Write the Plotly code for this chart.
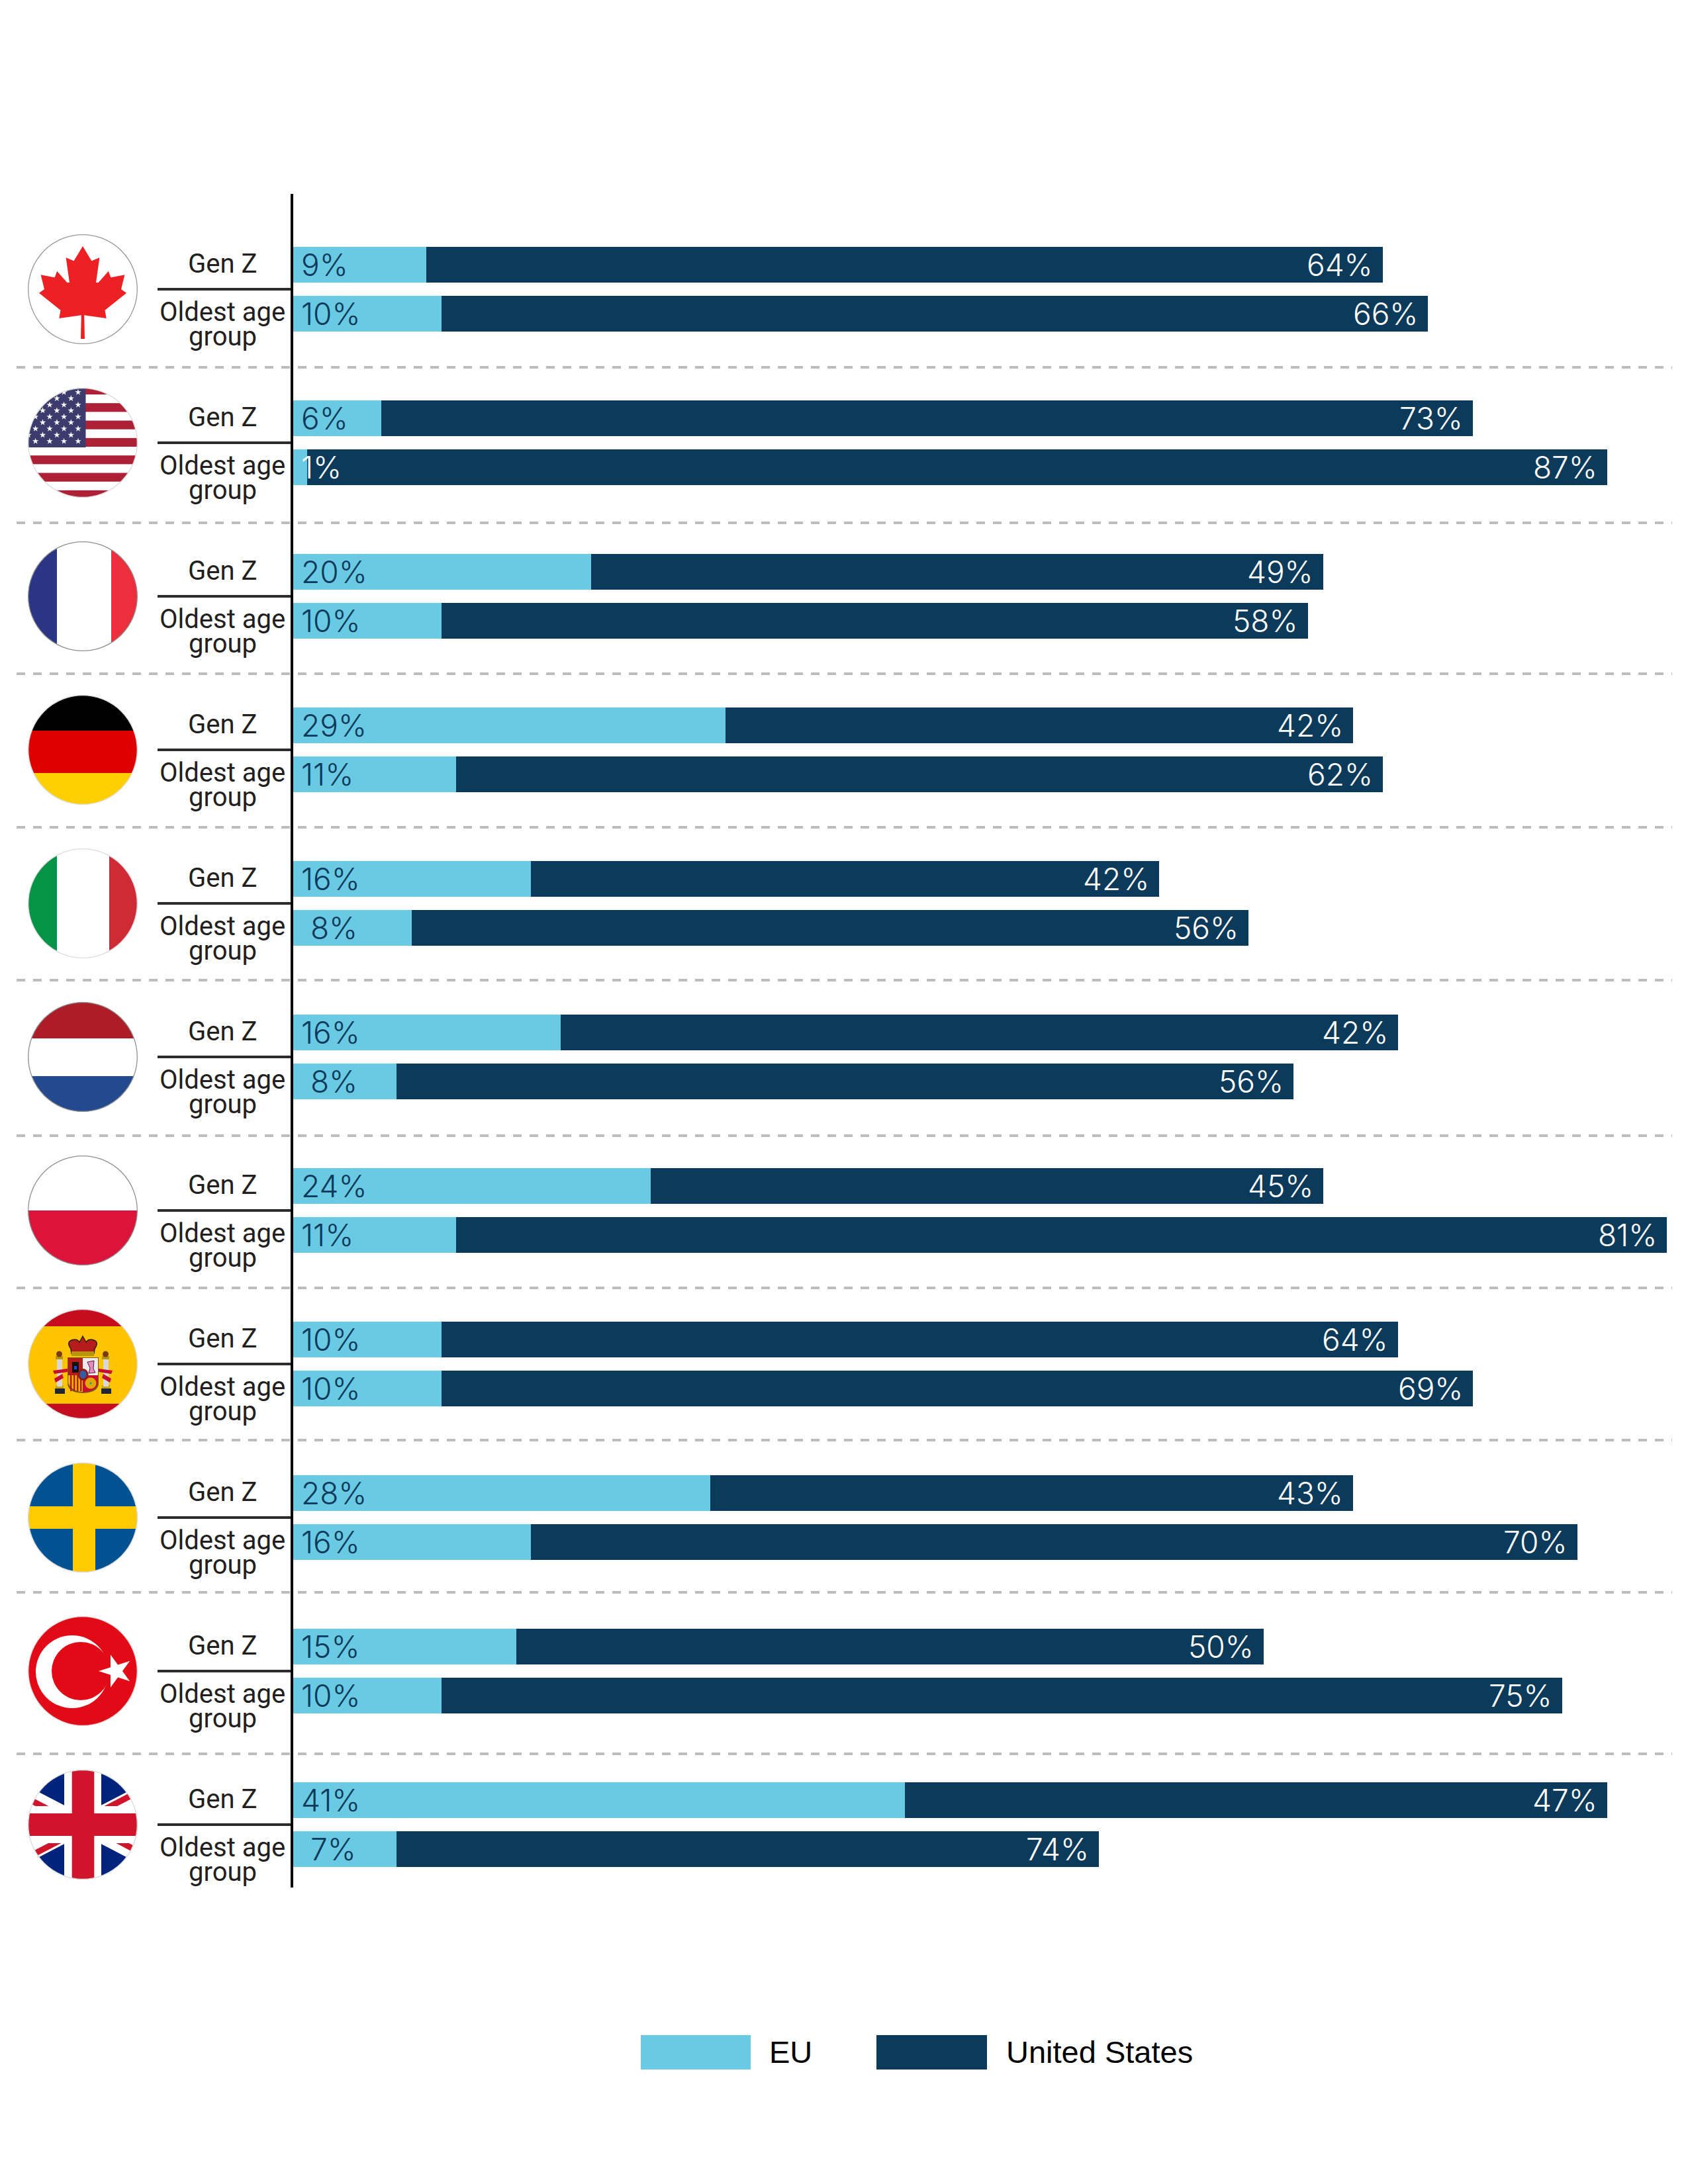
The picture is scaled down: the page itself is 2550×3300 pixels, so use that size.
import base64
import math

import plotly.graph_objects as go

# Valeurs des barres
countries = ["Canada", "United States", "France", "Germany", "Italy", "Netherlands",
             "Poland", "Spain", "Sweden", "Turkey", "United Kingdom"]
eu_genz = [9, 6, 20, 29, 16, 18, 24, 10, 28, 15, 41]
eu_oldest = [10, 1, 10, 11, 8, 7, 11, 10, 16, 10, 7]
us_genz = [64, 73, 49, 42, 42, 56, 45, 64, 43, 50, 47]
us_oldest = [66, 87, 58, 62, 56, 60, 81, 69, 70, 75, 47]

# Etiquettes imprimées (pas toujours égales aux longueurs de barres dans l'original)
eu_genz_labels = ["9%", "6%", "20%", "29%", "16%", "16%", "24%", "10%", "28%", "15%", "41%"]
eu_oldest_labels = ["10%", "1%", "10%", "11%", "8%", "8%", "11%", "10%", "16%", "10%", "7%"]
us_genz_labels = ["64%", "73%", "49%", "42%", "42%", "42%", "45%", "64%", "43%", "50%", "47%"]
us_oldest_labels = ["66%", "87%", "58%", "62%", "56%", "56%", "81%", "69%", "70%", "75%", "74%"]

divider_rows = [555, 790, 1018, 1250, 1481, 1716, 1946, 2176, 2406, 2650]

# La page garde une marge de 8 px autour de la figure
PAGE_MARGIN = 8
W, H = 2550 - PAGE_MARGIN, 3300 - PAGE_MARGIN
X0, PX_PER_PCT = 441, 22.58
ROW_TOP, ROW_PITCH = 373, 232
BAR_H = 54
LIGHT, NAVY = "#6ACAE3", "#0B3A5B"
INK = "#231F20"
VALUE_FONT = dict(family="Inter", size=46, weight=300)
LABEL_FONT = dict(family="Roboto", size=40, color=INK)


def star(cx, cy, r, fill="#fff", start=-90, ratio=0.382):
    pts = []
    for k in range(10):
        a = math.radians(start + 36 * k)
        rr = r if k % 2 == 0 else r * ratio
        pts.append(f"{cx + rr * math.cos(a):.2f},{cy + rr * math.sin(a):.2f}")
    return f'<polygon points="{" ".join(pts)}" fill="{fill}"/>'


def rect(x, y, w, h, fill):
    return f'<rect x="{x}" y="{y}" width="{w}" height="{h}" fill="{fill}"/>'


def flag_canada():
    half = [(0, -65), (13.4, -42.7), (25.4, -47.7), (20, -10), (23.6, -10), (38.8, -27.3), (42.4, -17.7),
            (63.4, -21.7), (58, 0), (66, 5.7), (33.5, 31.7), (35.7, 44), (2.2, 39.3), (3, 75)]
    pts = half + [(-x, y) for x, y in reversed(half[1:])]
    txt = " ".join(f"{83 + x},{83 + y}" for x, y in pts)
    return rect(0, 0, 166, 166, "#fff") + f'<polygon points="{txt}" fill="#ED2024"/>'


def flag_usa():
    s = rect(0, 0, 166, 166, "#fff") + rect(0, 0, 166, 10, "#AE2035")
    for k in range(1, 7):
        s += rect(0, 10 + 13.17 * (2 * k - 1), 166, 13.17, "#AE2035")
    s += rect(0, 0, 87.5, 90, "#3C3B6E")
    rows = [6.7, 16, 25.7, 34.3, 43.7, 52.3, 61.7, 71.3, 80.7]
    for j, y in enumerate(rows):
        xs = [76, 54.6, 33, 11.6] if j % 2 == 0 else [65.3, 43.9, 22.5, 1]
        for x in xs:
            s += star(x, y, 5)
    return s


def flag_france():
    return rect(0, 0, 44, 166, "#2B3585") + rect(44, 0, 83, 166, "#fff") + rect(126, 0, 40, 166, "#EC2E3D")


def flag_germany():
    return rect(0, 0, 166, 54, "#000") + rect(0, 54, 166, 64, "#DD0000") + rect(0, 118, 166, 48, "#FFCF00")


def flag_italy():
    return rect(0, 0, 44, 166, "#059347") + rect(44, 0, 79, 166, "#fff") + rect(123, 0, 43, 166, "#CE2B37")


def flag_netherlands():
    return rect(0, 0, 166, 55, "#AD1D28") + rect(0, 55, 166, 57, "#fff") + rect(0, 112, 166, 54, "#234A8F")


def flag_poland():
    return rect(0, 0, 166, 83, "#fff") + rect(0, 83, 166, 83, "#DC143C")


def flag_spain():
    s = rect(0, 0, 166, 26, "#C60D1F") + rect(0, 26, 166, 117, "#FFC400") + rect(0, 143, 166, 23, "#C60D1F")
    # colonnes
    for x in (43, 113):
        s += rect(x - 1, 115, 12, 6, "#C9A21A") + rect(x + 1, 75, 8, 42, "#D8D8D8")
        s += rect(x - 2, 120, 15, 8, "#1D2733") + rect(x - 1, 71, 11, 5, "#B8950F")
        s += f'<circle cx="{x + 4.5}" cy="68" r="4.5" fill="#7A3B12"/>'
    # rubans
    s += '<path d="M38,93 L60,90 L60,95 L40,98 Z M52,98 L40,105 L42,111 L54,104 Z" fill="#C8102E"/>'
    s += '<path d="M128,93 L107,90 L107,95 L126,98 Z M114,98 L126,105 L124,111 L112,104 Z" fill="#C8102E"/>'
    # ecu
    s += '<path d="M60,73 H107 V112 Q107,126 83,127 Q60,126 60,112 Z" fill="#7A5A1E"/>'
    s += rect(61, 74, 22, 26, "#B71C1C") + rect(83, 74, 23, 26, "#EDEDED")
    s += rect(67, 80, 10, 16, "#111") + rect(70, 86, 4, 5, "#1E4FD8")
    s += '<path d="M90,80 L100,78 L99,90 L102,96 L92,97 L94,89 Z" fill="#E58CC0" stroke="#551A3A" stroke-width="1"/>'
    s += '<path d="M61,100 H83 V125 Q68,125 61,112 Z" fill="#F0B400"/>'
    for x in (64, 69, 74, 79):
        s += rect(x, 100, 2.4, 24, "#B71C1C")
    s += '<path d="M83,100 H106 V112 Q104,124 83,126 Z" fill="#C8102E"/>'
    s += '<circle cx="95" cy="112" r="8.5" fill="#E0A800"/><circle cx="95" cy="112" r="1.5" fill="#1A9E8F"/>'
    s += '<ellipse cx="83.5" cy="99" rx="8" ry="9" fill="#8E1B1B"/><ellipse cx="83.5" cy="99" rx="5" ry="6" fill="#2F5FA8"/>'
    # couronne
    s += '<path d="M65,60 Q58,50 66,47 Q74,44 78,50 L83,41 L88,50 Q92,44 100,47 Q108,50 101,60 L100,67 H66 Z" fill="#B71C1C" stroke="#2A1E05" stroke-width="1.5"/>'
    s += rect(66, 64, 34, 7, "#B8950F")
    return s


def flag_sweden():
    return rect(0, 0, 166, 166, "#005293") + rect(68, 0, 34, 166, "#FFCB00") + rect(0, 66, 166, 34, "#FFCB00")


def flag_turkey():
    s = rect(0, 0, 166, 166, "#E30A17")
    s += '<circle cx="67" cy="84" r="55" fill="#fff"/><circle cx="80" cy="83" r="44" fill="#E30A17"/>'
    s += star(133, 83, 26, start=180)
    return s


def flag_uk():
    m = 0.52
    s = rect(0, 0, 166, 166, "#00247D")
    line = '<line x1="{}" y1="{}" x2="{}" y2="{}" stroke="{}" stroke-width="{}"/>'
    s += line.format(0, 83 - 83 * m, 166, 83 + 83 * m, "#fff", 26)
    s += line.format(0, 83 + 83 * m, 166, 83 - 83 * m, "#fff", 26)
    s += line.format(0, 83 - 83 * m + 4, 83, 87, "#CF142B", 9)
    s += line.format(83, 79, 166, 83 + 83 * m - 3, "#CF142B", 9)
    s += line.format(0, 83 + 83 * m + 6, 83, 89, "#CF142B", 9)
    s += line.format(83, 77, 166, 83 - 83 * m - 6, "#CF142B", 9)
    s += rect(55, 0, 56, 166, "#fff") + rect(0, 55, 166, 56, "#fff")
    s += rect(66.7, 0, 33.6, 166, "#CF142B") + rect(0, 66, 166, 34, "#CF142B")
    return s


flags = [flag_canada, flag_usa, flag_france, flag_germany, flag_italy, flag_netherlands,
         flag_poland, flag_spain, flag_sweden, flag_turkey, flag_uk]
rings = ["#999999", "#dddddd", "#8f8f8f", "#dddddd", "#dddddd", "#8f8f8f",
         "#8f8f8f", "#dddddd", "#dddddd", "#dddddd", "#dddddd"]


def flag_uri(i):
    svg = ('<svg xmlns="http://www.w3.org/2000/svg" width="332" height="332" viewBox="0 0 166 166">'
           f'<defs><clipPath id="c"><circle cx="83" cy="83" r="82.5"/></clipPath></defs>'
           f'<g clip-path="url(#c)">{flags[i]()}</g>'
           f'<circle cx="83" cy="83" r="82.3" fill="none" stroke="{rings[i]}" stroke-width="1.3"/></svg>')
    return "data:image/svg+xml;base64," + base64.b64encode(svg.encode()).decode()


# Axe y en pixels de la page : deux barres par pays
row_tops = [ROW_TOP + ROW_PITCH * i for i in range(len(countries))]
y_genz = [t + BAR_H / 2 for t in row_tops]
y_oldest = [t + 74 + BAR_H / 2 for t in row_tops]

fig = go.Figure()
fig.add_trace(go.Bar(name="EU", orientation="h", y=y_genz + y_oldest, x=eu_genz + eu_oldest,
                     width=BAR_H, marker=dict(color=LIGHT, line_width=0)))
fig.add_trace(go.Bar(name="United States", orientation="h", y=y_genz + y_oldest, x=us_genz + us_oldest,
                     width=BAR_H, marker=dict(color=NAVY, line_width=0)))

annotations = []
shapes = []
images = []


def add_text(x, y, text, font, anchor="center", shift=0, xref="x"):
    annotations.append(dict(x=x, y=y, xref=xref, yref="y", text=text, showarrow=False, font=font,
                            xanchor=anchor, yanchor="middle", xshift=shift))


x_of = lambda px: (px - X0) / PX_PER_PCT

for i, top in enumerate(row_tops):
    for y, eu, us, eu_txt, us_txt in ((y_genz[i], eu_genz[i], us_genz[i], eu_genz_labels[i], us_genz_labels[i]),
                                      (y_oldest[i], eu_oldest[i], us_oldest[i], eu_oldest_labels[i], us_oldest_labels[i])):
        eu_color = "#fff" if eu_txt == "1%" else NAVY
        eu_shift = 26 if eu_txt in ("7%", "8%") else 12
        add_text(0, y, eu_txt, dict(VALUE_FONT, color=eu_color), "left", eu_shift)
        add_text(eu + us, y, us_txt, dict(VALUE_FONT, color="#fff"), "right", -13)

    add_text(x_of(336), top + 25, "Gen Z", LABEL_FONT)
    add_text(x_of(336), top + 98, "Oldest age", LABEL_FONT)
    add_text(x_of(336), top + 135, "group", LABEL_FONT)

    shapes.append(dict(type="line", xref="x", yref="y", x0=x_of(238), x1=0, y0=top + 64, y1=top + 64,
                       line=dict(color="#2B2B2B", width=4)))
    images.append(dict(source=flag_uri(i), xref="paper", yref="paper", x=(42 - PAGE_MARGIN) / W,
                       y=1 - (top + 64 - 83 - PAGE_MARGIN) / H, sizex=166 / W, sizey=166 / H,
                       xanchor="left", yanchor="top", sizing="stretch", layer="above"))

for y in divider_rows:
    shapes.append(dict(type="line", xref="x", yref="y", x0=x_of(25), x1=x_of(2526), y0=y, y1=y,
                       line=dict(color="#BDBDBD", width=4, dash="13px,12px")))

# Axe vertical
shapes.append(dict(type="line", xref="x", yref="y", x0=0, x1=0, y0=293, y1=2852,
                   line=dict(color="#000", width=4)))

# Légende
for px0, px1, color in ((968, 1134, LIGHT), (1324, 1491, NAVY)):
    shapes.append(dict(type="rect", xref="x", yref="y", x0=x_of(px0), x1=x_of(px1), y0=3075, y1=3127,
                       fillcolor=color, line_width=0))
legend_font = dict(family="Liberation Sans", size=47, color="#000")
add_text(x_of(1160), 3100, "EU", legend_font, "left")
add_text(x_of(1518), 3100, "United States", legend_font, "left")

fig.update_layout(
    width=W, height=H, barmode="stack", showlegend=False,
    margin=dict(l=0, r=0, t=0, b=0),
    paper_bgcolor="#fff", plot_bgcolor="#fff",
    xaxis=dict(range=[x_of(PAGE_MARGIN), x_of(PAGE_MARGIN + W)], visible=False, fixedrange=True),
    yaxis=dict(range=[PAGE_MARGIN + H, PAGE_MARGIN], visible=False, fixedrange=True),
    annotations=annotations, shapes=shapes, images=images,
)

fig.write_html("out.html")
